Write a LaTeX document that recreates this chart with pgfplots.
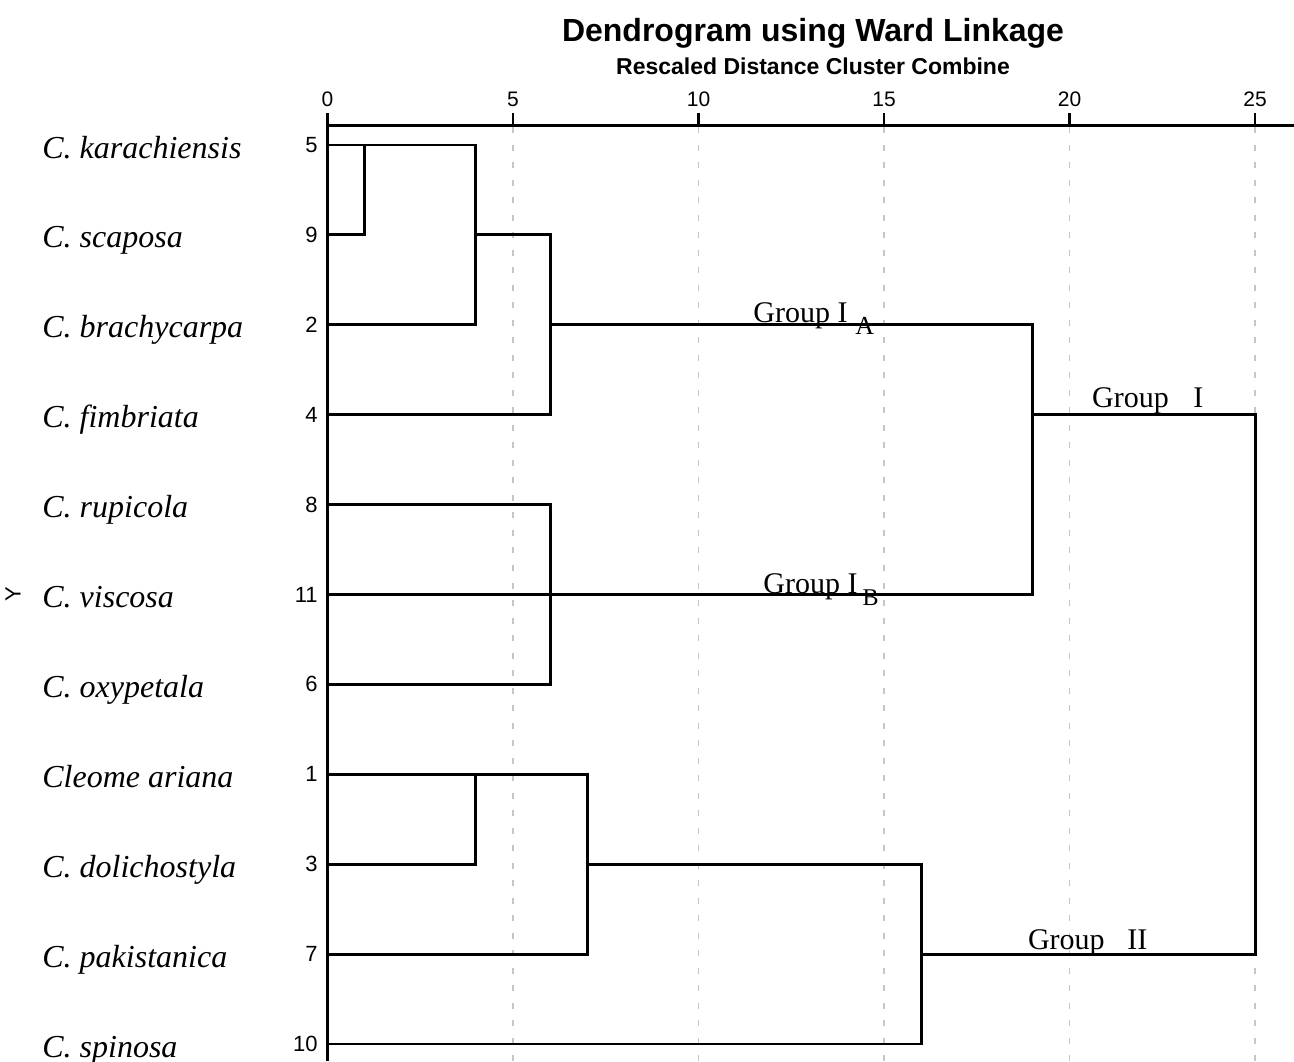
\documentclass[border=0pt]{standalone}
\usepackage{pgfplots}
\pgfplotsset{compat=1.18}
\usepackage{fontspec}
\setmainfont{Liberation Serif}
\newfontfamily\arial{Liberation Sans}
\begin{document}
\begin{tikzpicture}
\useasboundingbox (-163.75pt,0) rectangle (483.25pt,530.5pt);
\begin{axis}[
  at={(0,0)}, anchor=south west,
  scale only axis, width=483.25pt, height=467.75pt,
  xmin=0, xmax=26.05, ymin=-11.189, ymax=-0.783,
  axis x line=top, axis y line=left,
  axis line style={-, line width=1.6pt, black},
  xtick={0,5,10,15,20,25}, ytick=\empty,
  tick align=outside, major tick length=6pt,
  xtick style={line width=1.4pt, black},
  xticklabel style={font=\arial\fontsize{10.5}{12}\selectfont},
  /pgf/number format/assume math mode=true,
  xmajorgrids,
  grid style={gray!45, line width=0.9pt, dash pattern=on 3pt off 5.75pt},
  clip=false,
]
% branches
\addplot[black, line width=1.45pt, line join=miter] coordinates {(0,-2) (1,-2) (1,-1)};
\addplot[black, line width=1.45pt, line join=miter] coordinates {(0,-1) (4,-1) (4,-3) (0,-3)};
\addplot[black, line width=1.45pt, line join=miter] coordinates {(4,-2) (6,-2) (6,-4) (0,-4)};
\addplot[black, line width=1.45pt, line join=miter] coordinates {(6,-3) (19,-3) (19,-6) (0,-6)};
\addplot[black, line width=1.45pt, line join=miter] coordinates {(0,-5) (6,-5) (6,-7) (0,-7)};
\addplot[black, line width=1.45pt, line join=miter] coordinates {(19,-4) (25,-4) (25,-10) (16,-10)};
\addplot[black, line width=1.45pt, line join=miter] coordinates {(0,-8) (7,-8) (7,-10) (0,-10)};
\addplot[black, line width=1.45pt, line join=miter] coordinates {(4,-8) (4,-9) (0,-9)};
\addplot[black, line width=1.45pt, line join=miter] coordinates {(7,-9) (16,-9) (16,-11) (0,-11)};
% row numbers
\begin{scope}[every node/.style={anchor=east, inner sep=0pt, xshift=-4.75pt, font=\arial\fontsize{11}{13}\selectfont}]
\node at (axis cs:0,-1) {5};
\node at (axis cs:0,-2) {9};
\node at (axis cs:0,-3) {2};
\node at (axis cs:0,-4) {4};
\node at (axis cs:0,-5) {8};
\node at (axis cs:0,-6) {11};
\node at (axis cs:0,-7) {6};
\node at (axis cs:0,-8) {1};
\node at (axis cs:0,-9) {3};
\node at (axis cs:0,-10) {7};
\node at (axis cs:0,-11) {10};
\end{scope}
% species names
\begin{scope}[every node/.style={anchor=base west, inner sep=0pt, xshift=-142.75pt, yshift=-6.5pt, font=\itshape\fontsize{16}{19}\selectfont}]
\node at (axis cs:0,-1) {C. karachiensis};
\node at (axis cs:0,-2) {C. scaposa};
\node at (axis cs:0,-3) {C. brachycarpa};
\node at (axis cs:0,-4) {C. fimbriata};
\node at (axis cs:0,-5) {C. rupicola};
\node at (axis cs:0,-6) {C. viscosa};
\node at (axis cs:0,-7) {C. oxypetala};
\node at (axis cs:0,-8) {Cleome ariana};
\node at (axis cs:0,-9) {C. dolichostyla};
\node at (axis cs:0,-10) {C. pakistanica};
\node at (axis cs:0,-11) {C. spinosa};
\end{scope}
\node[inner sep=0pt, font=\arial\fontsize{11}{13}\selectfont] at (axis cs:0,-6) [xshift=-157.25pt] {\rotatebox{90}{Y}};
% group labels
\begin{scope}[every node/.style={anchor=base west, inner sep=0pt, font=\fontsize{15}{18}\selectfont}]
\node at (axis cs:11.47,-2.969) {Group I};
\node[font=\fontsize{13}{15}\selectfont] at (axis cs:14.22,-3.113) {A};
\node at (axis cs:11.74,-5.994) {Group I};
\node[font=\fontsize{12}{14}\selectfont] at (axis cs:14.41,-6.117) {B};
\node at (axis cs:20.60,-3.925) {Group};
\node at (axis cs:23.33,-3.925) {I};
\node at (axis cs:18.87,-9.954) {Group};
\node at (axis cs:21.55,-9.954) {II};
\end{scope}
% titles
\node[anchor=base, inner sep=0pt, font=\arial\bfseries\fontsize{16}{19}\selectfont] at (rel axis cs:0,1) [xshift=242.75pt, yshift=41.75pt] {Dendrogram using Ward Linkage};
\node[anchor=base, inner sep=0pt, font=\arial\bfseries\fontsize{11.5}{14}\selectfont] at (rel axis cs:0,1) [xshift=242.75pt, yshift=25.25pt] {Rescaled Distance Cluster Combine};
\end{axis}
\end{tikzpicture}
\end{document}
